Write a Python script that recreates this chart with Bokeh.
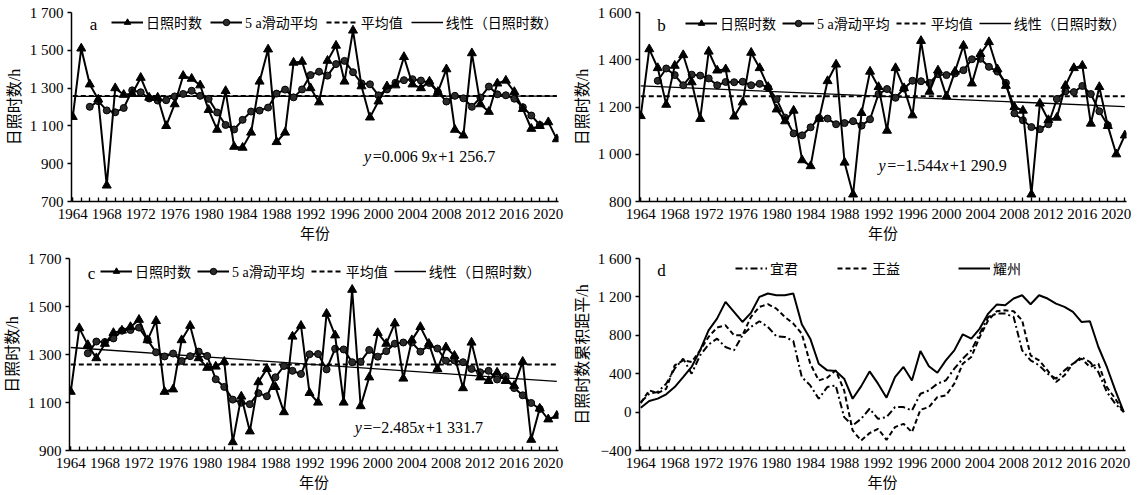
from bokeh.plotting import figure
from bokeh.layouts import row, column
from bokeh.models import Range1d, FixedTicker, Legend, LegendItem, Label
from bokeh.embed import file_html
from bokeh.resources import INLINE

# ---------------- data ----------------
years = list(range(1964, 2022))
ma_years = list(range(1966, 2020))
year_labels = list(range(1964, 2021, 4))

# panel a (日照时数, 5 a滑动平均)
sun_a = [1148, 1510, 1320, 1240, 785, 1300, 1265, 1270, 1355, 1250,
         1250, 1100, 1215, 1365, 1350, 1315, 1185, 1080, 1285, 990,
         985, 1065, 1335, 1505, 1015, 1065, 1435, 1440, 1300, 1225,
         1445, 1525, 1335, 1605, 1310, 1145, 1230, 1310, 1315, 1465,
         1320, 1300, 1335, 1280, 1400, 1080, 1050, 1485, 1215, 1175,
         1325, 1340, 1280, 1190, 1085, 1100, 1120, 1030]
ma_a = [1201, 1231, 1182, 1172, 1195, 1288, 1278, 1245, 1234, 1236,
        1256, 1269, 1286, 1259, 1243, 1171, 1105, 1081, 1132, 1176,
        1181, 1197, 1271, 1292, 1251, 1293, 1369, 1387, 1366, 1427,
        1444, 1384, 1325, 1320, 1262, 1293, 1328, 1342, 1347, 1340,
        1327, 1279, 1229, 1259, 1246, 1201, 1250, 1308, 1267, 1262,
        1244, 1199, 1155, 1105]
mean_a = 1258
trend_a = [1256.7, 1257.1]

# panel b
sun_b = [1162, 1445, 1365, 1210, 1375, 1420, 1305, 1150, 1435, 1355,
         1360, 1160, 1220, 1430, 1365, 1285, 1190, 1140, 1185, 975,
         950, 1150, 1310, 1380, 965, 830, 1175, 1350, 1285, 1100,
         1365, 1280, 1165, 1480, 1265, 1355, 1245, 1350, 1460, 1300,
         1425, 1475, 1360, 1290, 1200, 1185, 830, 1215, 1145, 1155,
         1290, 1365, 1375, 1130, 1285, 1120, 1000, 1080]
ma_b = [1311, 1363, 1335, 1292, 1337, 1333, 1321, 1292, 1306, 1305,
        1307, 1292, 1298, 1282, 1233, 1155, 1088, 1080, 1114, 1153,
        1151, 1127, 1132, 1140, 1121, 1148, 1255, 1276, 1239, 1278,
        1311, 1309, 1302, 1339, 1335, 1342, 1356, 1402, 1404, 1370,
        1350, 1302, 1173, 1144, 1115, 1106, 1127, 1234, 1266, 1263,
        1289, 1255, 1182, 1123]
mean_b = 1246
trend_b = [1289.4, 1201.3]

# panel c
sun_c = [1145, 1410, 1340, 1285, 1345, 1390, 1400, 1415, 1445, 1360,
         1440, 1145, 1155, 1360, 1420, 1285, 1245, 1250, 1270, 935,
         1125, 980, 1185, 1240, 1165, 1060, 1375, 1420, 1140, 1100,
         1470, 1380, 1100, 1570, 1085, 1205, 1390, 1345, 1430, 1200,
         1360, 1415, 1345, 1240, 1330, 1295, 1160, 1350, 1205, 1190,
         1225, 1190, 1170, 1270, 945, 1075, 1030, 1045]
ma_c = [1305, 1354, 1352, 1367, 1399, 1402, 1412, 1361, 1309, 1292,
        1304, 1273, 1293, 1312, 1294, 1197, 1165, 1112, 1099, 1093,
        1139, 1126, 1205, 1252, 1232, 1219, 1301, 1302, 1238, 1324,
        1321, 1268, 1270, 1319, 1291, 1314, 1345, 1350, 1350, 1312,
        1338, 1325, 1274, 1275, 1268, 1240, 1226, 1232, 1196, 1209,
        1160, 1130, 1098, 1073]
mean_c = 1258
trend_c = [1329.2, 1187.6]

# panel d (日照时数累积距平)
cum_yijun = [104, 191, 209, 296, 452, 557, 400, 591, 703, 765,
             678, 643, 800, 887, 946, 887, 790, 783, 741, 365,
             278, 139, 261, 278, -52, -139, -70, 35, -70, -52,
             52, 52, 17, 191, 226, 296, 330, 452, 557, 643,
             817, 991, 1026, 1026, 991, 643, 539, 487, 400, 348,
             435, 504, 574, 522, 417, 209, 87, 0]
cum_wangyi = [94, 226, 198, 243, 487, 539, 522, 643, 783, 880,
              904, 800, 800, 991, 1096, 1124, 1078, 991, 922, 817,
              504, 330, 358, 435, 226, -191, -296, -219, -174, -289,
              -156, -122, -209, 24, 52, 157, 174, 296, 504, 574,
              783, 957, 1050, 1061, 1050, 957, 591, 539, 435, 313,
              383, 504, 557, 470, 504, 261, 139, 0]
cum_yaozhou = [45, 115, 140, 185, 261, 365, 470, 643, 852, 974,
               1148, 1043, 939, 1033, 1200, 1235, 1217, 1217, 1235, 915,
               765, 504, 435, 428, 348, 139, 268, 424, 296, 150,
               365, 470, 330, 637, 477, 410, 539, 643, 810, 765,
               870, 1026, 1120, 1113, 1183, 1217, 1123, 1217, 1183, 1130,
               1096, 1043, 939, 946, 678, 470, 226, 0]

ticks_a = [700, 900, 1100, 1300, 1500, 1700]
tick_text_a = ["700", "900", "1 100", "1 300", "1 500", "1 700"]
ticks_b = [800, 1000, 1200, 1400, 1600]
tick_text_b = ["800", "1 000", "1 200", "1 400", "1 600"]
ticks_c = [900, 1100, 1300, 1500, 1700]
tick_text_c = ["900", "1 100", "1 300", "1 500", "1 700"]
ticks_d = [-400, 0, 400, 800, 1200, 1600]
tick_text_d = ["\u2212400", "0", "400", "800", "1 200", "1 600"]

legend_labels = ["日照时数", "5 a滑动平均", "平均值", "线性（日照时数）"]
station_labels = ["宜君", "王益", "耀州"]

eq_a = [("y", True), ("=0.006 9", False), ("x", True), ("+1 256.7", False)]
eq_b = [("y", True), ("=\u22121.544", False), ("x", True), ("+1 290.9", False)]
eq_c = [("y", True), ("=\u22122.485", False), ("x", True), ("+1 331.7", False)]

# ---------------- styling ----------------
NUM_FONT = "Liberation Serif"
MIX_FONT = "Liberation Serif, Noto Sans CJK SC"
EM = {"0": .5, "1": .5, "2": .5, "3": .5, "4": .5, "5": .5, "6": .5, "7": .5,
      "8": .5, "9": .5, ".": .25, " ": .25, "=": .564, "+": .564, "\u2212": .564,
      "x": .444, "y": .444}


def make_fig(w, h, left, right, top, bottom, y_lo, y_hi, ticks, tick_text, ylabel):
    p = figure(width=w, height=h, output_backend="svg", toolbar_location=None,
               x_range=Range1d(1963.85, 2021.2), y_range=Range1d(y_lo, y_hi),
               min_border_left=left, min_border_right=right,
               min_border_top=top, min_border_bottom=bottom)
    p.outline_line_color = None
    p.xgrid.visible = False
    p.ygrid.visible = False
    p.background_fill_color = "white"
    p.border_fill_color = "white"
    xa = p.xaxis[0]
    ya = p.yaxis[0]
    xa.ticker = FixedTicker(ticks=year_labels, minor_ticks=years)
    xa.major_tick_in = 4
    xa.major_tick_out = 0
    xa.minor_tick_in = 4
    xa.minor_tick_out = 0
    xa.major_label_standoff = 7
    xa.axis_label = "年份"
    xa.axis_label_standoff = 4
    ya.ticker = FixedTicker(ticks=ticks)
    ya.major_label_overrides = {t: s for t, s in zip(ticks, tick_text)}
    ya.major_tick_in = 0
    ya.major_tick_out = 4
    ya.major_label_standoff = 4
    ya.axis_label = ylabel
    ya.axis_label_standoff = 4
    for ax in (xa, ya):
        ax.axis_line_color = "black"
        ax.axis_line_width = 1.5
        ax.major_tick_line_color = "black"
        ax.major_tick_line_width = 1.3
        ax.minor_tick_line_color = "black"
        ax.minor_tick_line_width = 1.3
        ax.major_label_text_font = NUM_FONT
        ax.major_label_text_font_size = "15px"
        ax.major_label_text_color = "black"
        ax.axis_label_text_font = MIX_FONT
        ax.axis_label_text_font_style = "normal"
        ax.axis_label_text_color = "black"
    xa.axis_label_text_font_size = "15px"
    ya.axis_label_text_font_size = "16px"
    ya.minor_tick_line_color = None
    return p


def letter(p, txt, x, y):
    p.add_layout(Label(x=x, y=y, x_units="screen", y_units="screen", text=txt,
                       text_font=NUM_FONT, text_font_size="17px", text_color="black",
                       text_align="center", text_baseline="middle"))


def equation(p, x, y, pieces, size=16):
    off = 0.0
    for txt, italic in pieces:
        p.add_layout(Label(x=x, y=y, x_offset=off, text=txt, text_font=NUM_FONT,
                           text_font_size=f"{size}px", text_color="black",
                           text_font_style="italic" if italic else "normal",
                           text_align="left", text_baseline="middle"))
        off += sum(EM.get(ch, .5) for ch in txt) * size + (1.5 if italic else 0)


def legend_common(spacing=6):
    return dict(orientation="horizontal", glyph_width=32, glyph_height=16,
                label_height=16, label_standoff=3, spacing=spacing, padding=0, margin=0,
                border_line_color=None, background_fill_alpha=0,
                label_text_font=MIX_FONT, label_text_font_size="14px",
                label_text_color="#000000")


def sun_panel(w, h, left, right, top, bottom, y_lo, y_hi, ticks, tick_text,
              sun, ma, mean, trend, let, leg_x, leg_off, leg_sp, eq, eq_x, eq_y):
    p = make_fig(w, h, left, right, top, bottom, y_lo, y_hi, ticks, tick_text, "日照时数/h")
    fh = h - top - bottom
    l4 = p.line([years[0], years[-1]], trend, line_color="black", line_width=1.3)
    l3 = p.line([years[0], years[-1]], [mean, mean], line_color="black",
                line_width=2, line_dash="5 3")
    l2 = p.line(ma_years, ma, line_color="black", line_width=2)
    s2 = p.scatter(ma_years, ma, marker="circle", size=7, fill_color="#2b2b2b",
                   line_color="black", line_width=1)
    l1 = p.line(years, sun, line_color="black", line_width=2)
    s1 = p.scatter(years, sun, marker="triangle", size=9, fill_color="black",
                   line_color="black")
    items = [LegendItem(label=legend_labels[0], renderers=[l1, s1]),
             LegendItem(label=legend_labels[1], renderers=[l2, s2]),
             LegendItem(label=legend_labels[2], renderers=[l3]),
             LegendItem(label=legend_labels[3], renderers=[l4])]
    p.add_layout(Legend(items=items, location=(leg_x, fh - leg_off - 8),
                        **legend_common(leg_sp)))
    letter(p, let, 22, fh - leg_off)
    equation(p, eq_x, eq_y, eq)
    return p


# row 1: 248 px high, row 2: 247 px high; each column 570 px wide
pa = sun_panel(570, 248, 71, 12, 12, 47, 700, 1700, ticks_a, tick_text_a,
               sun_a, ma_a, mean_a, trend_a, "a", 40, 12, 8, eq_a, 1998.3, 940)
pb = sun_panel(570, 248, 67, 14, 10, 47, 800, 1600, ticks_b, tick_text_b,
               sun_b, ma_b, mean_b, trend_b, "b", 46, 15, 6, eq_b, 1992.0, 952)
pc = sun_panel(570, 247, 69, 12, 10, 45, 900, 1700, ticks_c, tick_text_c,
               sun_c, ma_c, mean_c, trend_c, "c", 31, 15, 6, eq_c, 1997.3, 997)

# panel d
pd = make_fig(570, 247, 68, 15, 10, 45, -400, 1600, ticks_d, tick_text_d, "日照时数累积距平/h")
fh_d = 247 - 10 - 45
r1 = pd.line(years, cum_yijun, line_color="black", line_width=2, line_dash="7 3 2 3")
r2 = pd.line(years, cum_wangyi, line_color="black", line_width=2, line_dash="5 3")
r3 = pd.line(years, cum_yaozhou, line_color="black", line_width=2)
for rend, lab, lx in zip([r1, r2, r3], station_labels, [96, 198, 319]):
    pd.add_layout(Legend(items=[LegendItem(label=lab, renderers=[rend])],
                         location=(lx, fh_d - 12 - 8), **legend_common()))
letter(pd, "d", 22, fh_d - 12)

layout = column(row(pa, pb), row(pc, pd))
open("out.html", "w").write(file_html(layout, INLINE))
